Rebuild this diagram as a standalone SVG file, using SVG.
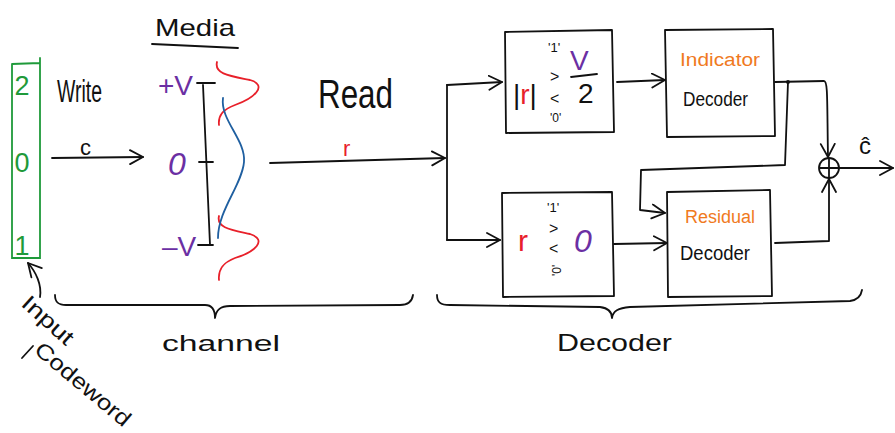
<svg xmlns="http://www.w3.org/2000/svg" width="895" height="433" viewBox="0 0 895 433">
<style>
.ln{fill:none;stroke:#111;stroke-width:1.8;stroke-linecap:round;stroke-linejoin:round}
.t{font-family:"Liberation Sans",Arial,sans-serif;fill:#111}
.pu{fill:#6b2fa3}
.rd{fill:#e8202a}
.or{fill:#f07a1e}
.gr{fill:#1f9a3a}
</style>
<defs>
<marker id="ah" markerUnits="userSpaceOnUse" markerWidth="18" markerHeight="18" refX="14" refY="8" orient="auto">
<path d="M1,1 L14,8 L1,15" fill="none" stroke="#111" stroke-width="1.8" stroke-linecap="round" stroke-linejoin="round"/>
</marker>
</defs>
<rect width="895" height="433" fill="#fff"/>

<g id="codeword">
<path d="M12,64 L40,63 M40,58 L40,258 L12,258 L12,64" fill="none" stroke="#1f9a3a" stroke-width="1.8" stroke-linecap="round"/>
<text class="t gr" x="22" y="95" font-size="27" text-anchor="middle">2</text>
<text class="t gr" x="22" y="172" font-size="27" text-anchor="middle">0</text>
<text class="t gr" x="22" y="255" font-size="27" text-anchor="middle">1</text>
</g>

<g id="input-label">
<text class="t" x="0" y="0" font-size="22" textLength="62" lengthAdjust="spacingAndGlyphs" transform="translate(20,305) rotate(42)">Input</text>
<path class="ln" d="M22,358 L33,346"/>
<text class="t" x="0" y="0" font-size="22" textLength="118" lengthAdjust="spacingAndGlyphs" transform="translate(33,352) rotate(40)">Codeword</text>
</g>

<g id="write-label">
<text class="t" x="57" y="102" font-size="31" textLength="45" lengthAdjust="spacingAndGlyphs">Write</text>
<text class="t" x="80" y="155" font-size="22">c</text>
</g>

<g id="media">
<text class="t" x="155" y="36" font-size="24" textLength="80" lengthAdjust="spacingAndGlyphs">Media</text>
<path class="ln" d="M152,44 L238,48"/>
<text class="t pu" x="158" y="95" font-size="28">+V</text>
<text class="t pu" x="168" y="175" font-size="32" font-style="italic">0</text>
<text class="t pu" x="162" y="256" font-size="28">–V</text>
<path class="ln" d="M197,83 L215,83 M203,85 L210,245 M199,162 L213,162 M198,245 L213,245"/>
<path d="M217,62 C214,74 230,76 250,80 C268,85 255,98 235,105 C222,110 218,116 219,125" fill="none" stroke="#e8202a" stroke-width="1.8" stroke-linecap="round"/>
<path d="M219,216 C216,228 232,230 250,234 C268,240 255,252 235,258 C222,263 218,270 219,280" fill="none" stroke="#e8202a" stroke-width="1.8" stroke-linecap="round"/>
<path d="M223,98 C220,120 246,140 244,162 C242,185 218,210 218,238" fill="none" stroke="#1f5fa0" stroke-width="1.8" stroke-linecap="round"/>
</g>

<g id="read-label">
<text class="t" x="318" y="108" font-size="40" textLength="75" lengthAdjust="spacingAndGlyphs">Read</text>
<text class="t rd" x="343" y="156" font-size="22">r</text>
</g>

<g id="abs-threshold">
<path class="ln" d="M505,32 L612,30 L614,132 L506,133 Z"/>
<text class="t" x="513" y="104" font-size="28">|<tspan class="rd">r</tspan>|</text>
<text class="t" x="548" y="52" font-size="13">'1'</text>
<text class="t" x="550" y="82" font-size="16">&gt;</text>
<text class="t" x="550" y="104" font-size="16">&lt;</text>
<text class="t" x="550" y="122" font-size="12">'0'</text>
<text class="t pu" x="570" y="70" font-size="28">V</text>
<path class="ln" d="M571,77 L597,74"/>
<text class="t" x="578" y="103" font-size="28">2</text>
</g>

<g id="indicator-decoder">
<path class="ln" d="M665,30 L773,29 L775,136 L667,137 Z"/>
<text class="t or" x="680" y="66" font-size="18" textLength="80" lengthAdjust="spacingAndGlyphs">Indicator</text>
<text class="t" x="683" y="106" font-size="20" textLength="65" lengthAdjust="spacingAndGlyphs">Decoder</text>
</g>

<g id="sign-threshold">
<path class="ln" d="M502,193 L612,192 L614,296 L503,297 Z"/>
<text class="t rd" x="518" y="251" font-size="30">r</text>
<text class="t" x="547" y="212" font-size="13">'1'</text>
<text class="t" x="549" y="234" font-size="16">&gt;</text>
<text class="t" x="549" y="254" font-size="16">&lt;</text>
<text class="t" x="0" y="0" font-size="12" transform="translate(561,276) rotate(-90)">'0'</text>
<text class="t pu" x="574" y="252" font-size="32" font-style="italic">0</text>
</g>

<g id="residual-decoder">
<path class="ln" d="M667,192 L770,190 L772,296 L668,297 Z"/>
<text class="t or" x="685" y="223" font-size="18" textLength="70" lengthAdjust="spacingAndGlyphs">Residual</text>
<text class="t" x="680" y="260" font-size="20" textLength="70" lengthAdjust="spacingAndGlyphs">Decoder</text>
</g>

<g id="sum">
<circle cx="829" cy="168" r="10" fill="none" stroke="#111" stroke-width="1.8"/>
<path class="ln" d="M820,168 L838,168 M829,159 L829,177"/>
<text class="t" x="859" y="154" font-size="24">ĉ</text>
</g>

<g id="braces">
<path class="ln" d="M55,295 C55,302 58,305 66,305 L205,305 C212,305 215,310 215,318 C216,310 220,306 230,306 L400,305 C408,305 412,302 413,295"/>
<text class="t" x="162" y="351" font-size="22" textLength="118" lengthAdjust="spacingAndGlyphs">channel</text>
<path class="ln" d="M437,295 C437,302 440,305 450,305 L600,307 C608,308 612,312 612,318 C613,311 618,308 630,307 L850,301 C857,300 861,296 862,290"/>
<text class="t" x="557" y="351" font-size="24" textLength="115" lengthAdjust="spacingAndGlyphs">Decoder</text>
</g>

<g id="connectors">
<path class="ln" d="M40,297 C42,285 36,272 28,263" marker-end="url(#ah)"/>
<path class="ln" d="M52,158 L143,157" marker-end="url(#ah)"/>
<path class="ln" d="M270,163 L445,158" marker-end="url(#ah)"/>
<path class="ln" d="M447,85 L447,240"/>
<path class="ln" d="M447,85 L502,82" marker-end="url(#ah)"/>
<path class="ln" d="M447,240 L500,240" marker-end="url(#ah)"/>
<path class="ln" d="M617,82 L665,80" marker-end="url(#ah)"/>
<path class="ln" d="M775,82 L824,81 C828,81 827,100 828,157" marker-end="url(#ah)"/>
<circle cx="788" cy="82" r="2" fill="#111"/>
<path class="ln" d="M788,82 L785,165 L641,170 L640,210 L665,213" marker-end="url(#ah)"/>
<path class="ln" d="M614,244 L667,243" marker-end="url(#ah)"/>
<path class="ln" d="M775,243 L829,241 L829,179" marker-end="url(#ah)"/>
<path class="ln" d="M839,168 L893,168" marker-end="url(#ah)"/>
</g>
</svg>
